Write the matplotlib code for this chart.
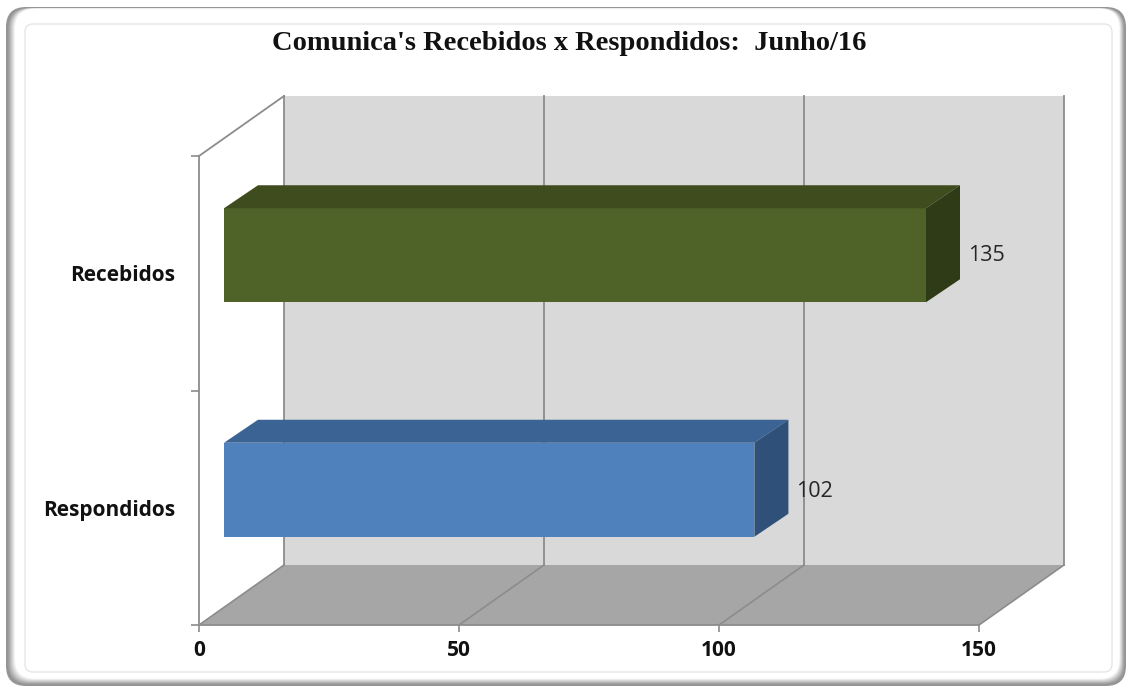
import matplotlib
matplotlib.use('Agg')
from matplotlib import pyplot as plt
from matplotlib.patches import FancyBboxPatch, Polygon

categories = ['Respondidos', 'Recebidos']
values = [102, 135]
front_colors = ['#4F81BD', '#4F6228']
top_colors = ['#3B6494', '#3F4C1E']
side_colors = ['#2F5079', '#2F3A16']
x_ticks = [0, 50, 100, 150]
title = "Comunica's Recebidos x Respondidos:  Junho/16"

W, H = 1126, 686
fig = plt.figure(figsize=(W / 100, H / 100), dpi=100)

# frame, drawn in pixel coordinates
bg = fig.add_axes([0, 0, 1, 1])
bg.set_xlim(0, W)
bg.set_ylim(H, 0)
bg.axis('off')

def round_box(x0, y0, x1, y1, r, face, edge='none', lw=0):
    bg.add_patch(FancyBboxPatch((x0 + r, y0 + r), x1 - x0 - 2 * r, y1 - y0 - 2 * r,
                                boxstyle='round,pad=%f,rounding_size=%f' % (r, r),
                                fc=face, ec=edge, lw=lw))

round_box(6, 7, 1126, 686, 20, '#969696')
steps = 16
for i in range(steps):
    t = (i + 1) / steps
    g = 0.55 + 0.45 * min(1, t * 1.25)
    round_box(7 + 10 * t, 8 + 1 * t, 1125 - 7 * t, 685 - 8 * t, 20, (g, g, g))
round_box(25, 24, 1112, 672, 8, '#FFFFFF', '#E6E6E6', 1)

# main axes = front plane of the 3d box
left, right, top, bottom = 199, 979, 156, 625
ax = fig.add_axes([left / W, 1 - bottom / H, (right - left) / W, (bottom - top) / H])
ax.set_xlim(0, 150)
ax.set_ylim(0, 2)
ax.patch.set_alpha(0)

px_x = 150 / (right - left)
px_y = 2 / (bottom - top)
depth_x, depth_y = 85 * px_x, 60 * px_y   # full depth of the box
bar_dx, bar_dy = 34 * px_x, 23 * px_y     # depth of the bars
gap_dx, gap_dy = 25 * px_x, 18 * px_y     # bars sit a bit behind the front plane
bar_h = 94 * px_y
axis_grey = '#8C8C8C'

# walls and floor
ax.add_patch(Polygon([(depth_x, depth_y), (150 + depth_x, depth_y), (150 + depth_x, 2 + depth_y),
                      (depth_x, 2 + depth_y)], fc='#D9D9D9', ec='none', clip_on=False, zorder=1))
ax.add_patch(Polygon([(0, 0), (150, 0), (150 + depth_x, depth_y), (depth_x, depth_y)],
                     fc='#A6A6A6', ec='none', clip_on=False, zorder=1))

for v in x_ticks:
    ax.plot([v, v + depth_x], [0, depth_y], color=axis_grey, lw=1.2, clip_on=False, zorder=2)
    ax.plot([v + depth_x, v + depth_x], [depth_y, 2 + depth_y], color=axis_grey, lw=1.3,
            clip_on=False, zorder=2)
ax.plot([0, depth_x], [2, 2 + depth_y], color=axis_grey, lw=1.3, clip_on=False, zorder=2)

# bars
for i, (name, v) in enumerate(zip(categories, values)):
    x0 = gap_dx
    x1 = gap_dx + v
    y0 = i + 0.5 + gap_dy - bar_h / 2
    y1 = y0 + bar_h
    ax.add_patch(Polygon([(x0, y0), (x1, y0), (x1, y1), (x0, y1)], fc=front_colors[i], ec='none',
                         clip_on=False, zorder=3))
    ax.add_patch(Polygon([(x0, y1), (x1, y1), (x1 + bar_dx, y1 + bar_dy), (x0 + bar_dx, y1 + bar_dy)],
                         fc=top_colors[i], ec='none', clip_on=False, zorder=3))
    ax.add_patch(Polygon([(x1, y0), (x1 + bar_dx, y0 + bar_dy), (x1 + bar_dx, y1 + bar_dy), (x1, y1)],
                         fc=side_colors[i], ec='none', clip_on=False, zorder=3))
    nudge = -2 * px_y if i == 0 else 0   # first label sits a little lower
    ax.text(x1 + bar_dx + 8 * px_x, i + 0.5 + gap_dy + nudge, str(v), family='Open Sans',
            fontsize=15.5, color='#262626', va='center', ha='left', zorder=4)

# axes
for s in ['top', 'right']:
    ax.spines[s].set_visible(False)
for s in ['left', 'bottom']:
    ax.spines[s].set_color(axis_grey)
    ax.spines[s].set_linewidth(1.3)
    ax.spines[s].set_zorder(2.5)
ax.set_xticks(x_ticks)
ax.set_xticklabels([str(v) for v in x_ticks], family='Open Sans', fontweight='bold', fontsize=15,
                   color='#111111')
ax.set_yticks([0, 1, 2])
ax.set_yticklabels([])
ax.set_yticks([0.5, 1.5], minor=True)
ax.set_yticklabels(categories, minor=True, family='Open Sans', fontweight='bold', fontsize=15,
                   color='#111111')
ax.tick_params(axis='x', length=5, width=1.2, color=axis_grey, pad=6)
ax.tick_params(axis='y', which='major', length=6, width=1.2, color=axis_grey)
ax.tick_params(axis='y', which='minor', length=0, pad=17)

fig.text(569 / W, 1 - 43 / H, title, family='Liberation Serif', fontweight='bold', fontsize=20.5,
         color='#111111', ha='center', va='center')

fig.savefig('out.png', dpi=100)
